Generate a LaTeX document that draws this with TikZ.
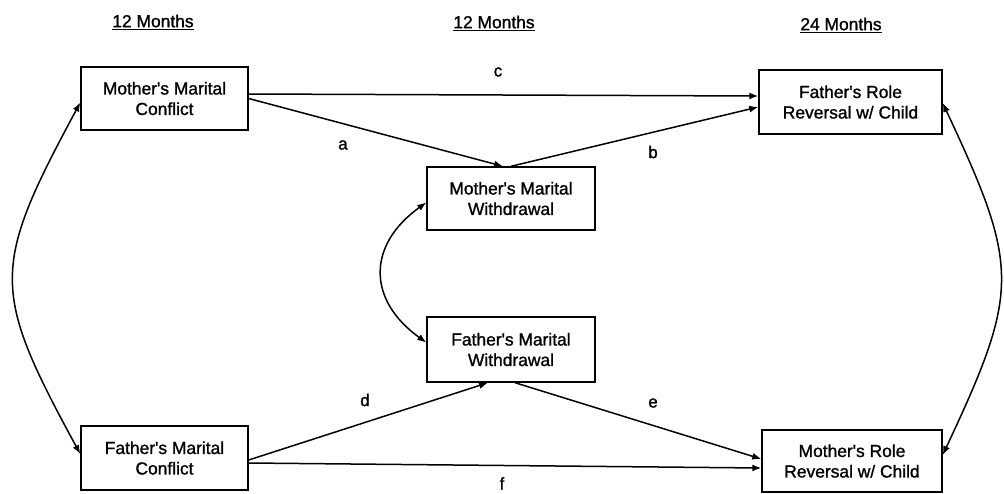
\documentclass[tikz,border=0pt]{standalone}
\usepackage{fontspec}
\setmainfont{Liberation Sans}
\newfontfamily\scanfont{Liberation Sans}[FakeBold=1.2]
\usetikzlibrary{arrows.meta,calc}
\begin{document}
\begin{tikzpicture}[x=1pt,y=-1pt,
  box/.style={draw,line width=1.4pt,rectangle,align=center,inner sep=0pt,
    font=\scanfont\fontsize{17.4}{20.5}\selectfont},
  conn/.style={line width=1.5pt,-{Latex[length=9pt,width=7pt]}},
  both/.style={line width=1.5pt,{Latex[length=9pt,width=7pt]}-{Latex[length=9pt,width=7pt]}},
  lab/.style={font=\scanfont\fontsize{17}{20}\selectfont},
  head/.style={font=\scanfont\fontsize{17.4}{20}\selectfont}]
\useasboundingbox (0,0) rectangle (1004,493);
\fill[white] (0,0) rectangle (1004,493);
% headers
\node[head] (h1) at (153,22) {\underline{12 Months}};
\node[head] (h2) at (494,23) {\underline{12 Months}};
\node[head] (h3) at (841,25) {\underline{24 Months}};
% boxes
\node[box,minimum width=167pt,minimum height=63pt] (MMC) at (164.5,98.5) {Mother's Marital\\Conflict};
\node[box,minimum width=183pt,minimum height=64pt] (FRR) at (850.5,102) {Father's Role\\Reversal w/ Child};
\node[box,minimum width=168pt,minimum height=63pt] (MMW) at (511,198.5) {Mother's Marital\\Withdrawal};
\node[box,minimum width=168pt,minimum height=65pt] (FMW) at (511,349.5) {Father's Marital\\Withdrawal};
\node[box,minimum width=167pt,minimum height=64pt] (FMC) at (164.5,458) {Father's Marital\\Conflict};
\node[box,minimum width=180pt,minimum height=62pt] (MRR) at (852,461) {Mother's Role\\Reversal w/ Child};
% straight paths
\draw[conn] ($(MMC.east)+(0,-4.5)$) -- ($(FRR.west)+(0,-6)$);
\draw[conn] (MMC.east) -- ($(MMW.north)+(-8,0)$);
\draw[conn] ($(MMW.north)+(0,0)$) -- ($(FRR.west)+(0,5)$);
\draw[conn] ($(FMC.east)+(0,2)$) -- ($(FMW.south)+(-23,0)$);
\draw[conn] ($(FMW.south)+(4,0)$) -- ($(MRR.west)+(0,-2)$);
\draw[conn] ($(FMC.east)+(0,5)$) -- ($(MRR.west)+(0,7)$);
% curved correlations
\draw[both] ($(MMC.west)+(0,4)$) .. controls (-9,268) and (-9,290) .. ($(FMC.west)+(0,-4)$);
\draw[both] ($(FRR.east)+(0,1)$) .. controls (1020,268) and (1020,290) .. ($(MRR.east)+(0,-6)$);
\draw[both] ($(MMW.west)+(0,4)$) .. controls (367,245) and (367,300) .. ($(FMW.west)+(0,-7)$);
% labels
\node[lab] (la) at (343,145) {a};
\node[lab] (lb) at (653,152) {b};
\node[lab] (lc) at (498,72) {c};
\node[lab] (ld) at (365,400) {d};
\node[lab] (le) at (653,403) {e};
\node[lab,anchor=north,inner sep=1pt] (lf) at (502,476) {f};
\end{tikzpicture}
\end{document}
